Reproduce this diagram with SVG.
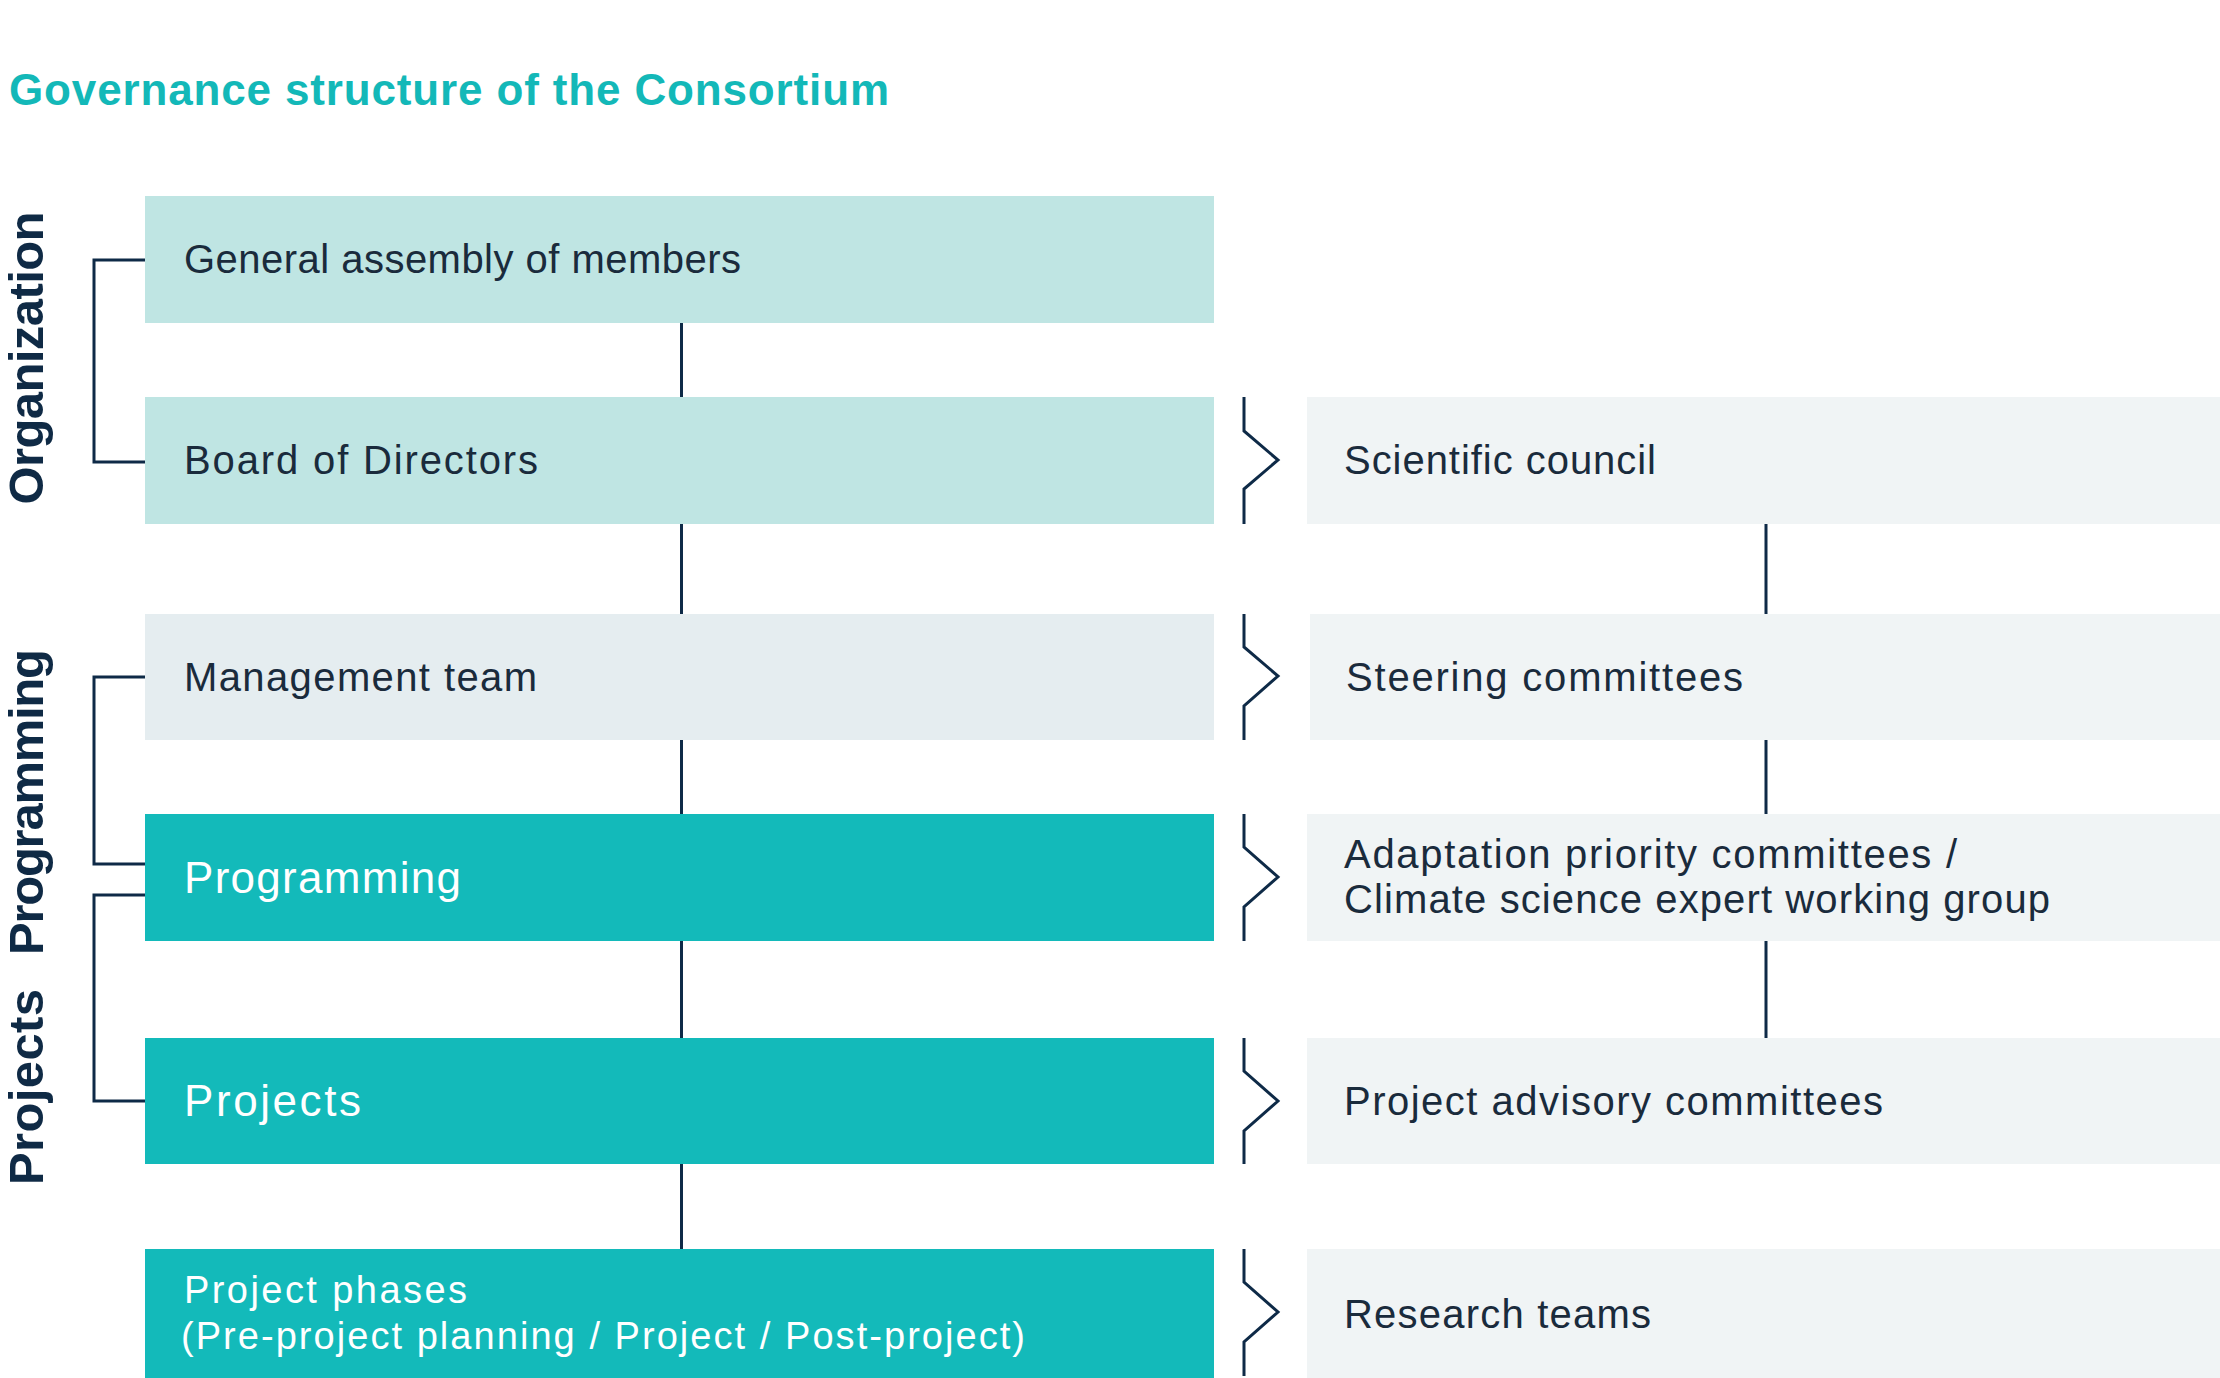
<svg xmlns="http://www.w3.org/2000/svg" width="2220" height="1378" viewBox="0 0 2220 1378">
<style>
.t{font-family:"Liberation Sans",Arial,sans-serif;font-size:40px;fill:#1A2B3C;}
.w{font-family:"Liberation Sans",Arial,sans-serif;fill:#FFFFFF;}
.side{font-family:"Liberation Sans",Arial,sans-serif;font-size:49px;font-weight:bold;fill:#0F2A45;}
.title{font-family:"Liberation Sans",Arial,sans-serif;font-size:44px;font-weight:bold;fill:#13B8B8;}
.lt{fill:#BFE5E3;}
.gr{fill:#E5EDF0;}
.rb{fill:#F0F4F5;}
.tl{fill:#13BABA;}
.ln{fill:none;stroke:#0E2A47;stroke-width:3;}
</style>
<rect width="2220" height="1378" fill="#FFFFFF"/>
<text class="title" x="9" y="105" textLength="880" lengthAdjust="spacing">Governance structure of the Consortium</text>

<g id="label-organization"><text class="side" transform="translate(43,358) rotate(-90)" text-anchor="middle" textLength="293" lengthAdjust="spacing">Organization</text></g>
<g id="label-programming"><text class="side" transform="translate(43,802) rotate(-90)" text-anchor="middle" textLength="306" lengthAdjust="spacing">Programming</text></g>
<g id="label-projects"><text class="side" transform="translate(43,1087) rotate(-90)" text-anchor="middle" textLength="196" lengthAdjust="spacing">Projects</text></g>

<g id="connectors">
<path class="ln" d="M145,260 H94 V462 H145"/>
<path class="ln" d="M145,677 H94 V864 H145"/>
<path class="ln" d="M145,895 H94 V1101 H145"/>
<path class="ln" d="M681.5,323 V397 M681.5,524 V614 M681.5,740 V814 M681.5,941 V1038 M681.5,1164 V1249"/>
<path class="ln" d="M1766,524 V614 M1766,740 V814 M1766,941 V1038"/>
<path class="ln" d="M1244,397 V431 L1278,460 L1244,489 V524"/>
<path class="ln" d="M1244,614 V647 L1278,676 L1244,706 V740"/>
<path class="ln" d="M1244,814 V847 L1278,877 L1244,907 V941"/>
<path class="ln" d="M1244,1038 V1071 L1278,1101 L1244,1131 V1164"/>
<path class="ln" d="M1244,1249 V1282 L1278,1312 L1244,1342 V1376"/>
</g>

<g id="general-assembly"><rect class="lt" x="145" y="196" width="1069" height="127"/><text class="t" x="184" y="273" textLength="557" lengthAdjust="spacing">General assembly of members</text></g>
<g id="board"><rect class="lt" x="145" y="397" width="1069" height="127"/><text class="t" x="184" y="474" textLength="354" lengthAdjust="spacing">Board of Directors</text></g>
<g id="management"><rect class="gr" x="145" y="614" width="1069" height="126"/><text class="t" x="184" y="691" textLength="353" lengthAdjust="spacing">Management team</text></g>
<g id="programming"><rect class="tl" x="145" y="814" width="1069" height="127"/><text class="w" x="184" y="893" font-size="44" textLength="277" lengthAdjust="spacing">Programming</text></g>
<g id="projects"><rect class="tl" x="145" y="1038" width="1069" height="126"/><text class="w" x="184" y="1116" font-size="44" textLength="177" lengthAdjust="spacing">Projects</text></g>
<g id="project-phases"><rect class="tl" x="145" y="1249" width="1069" height="129"/><text class="w" x="184" y="1303" font-size="38" textLength="283" lengthAdjust="spacing">Project phases</text><text class="w" x="181" y="1349" font-size="38" textLength="844" lengthAdjust="spacing">(Pre-project planning / Project / Post-project)</text></g>

<g id="scientific-council"><rect class="rb" x="1307" y="397" width="913" height="127"/><text class="t" x="1344" y="474" textLength="312" lengthAdjust="spacing">Scientific council</text></g>
<g id="steering-committees"><rect class="rb" x="1310" y="614" width="910" height="126"/><text class="t" x="1346" y="691" textLength="397" lengthAdjust="spacing">Steering committees</text></g>
<g id="adaptation-committees"><rect class="rb" x="1307" y="814" width="913" height="127"/><text class="t" x="1344" y="868" textLength="613" lengthAdjust="spacing">Adaptation priority committees /</text><text class="t" x="1344" y="913" textLength="706" lengthAdjust="spacing">Climate science expert working group</text></g>
<g id="project-advisory"><rect class="rb" x="1307" y="1038" width="913" height="126"/><text class="t" x="1344" y="1115" textLength="539" lengthAdjust="spacing">Project advisory committees</text></g>
<g id="research-teams"><rect class="rb" x="1307" y="1249" width="913" height="129"/><text class="t" x="1344" y="1328" textLength="307" lengthAdjust="spacing">Research teams</text></g>
</svg>
